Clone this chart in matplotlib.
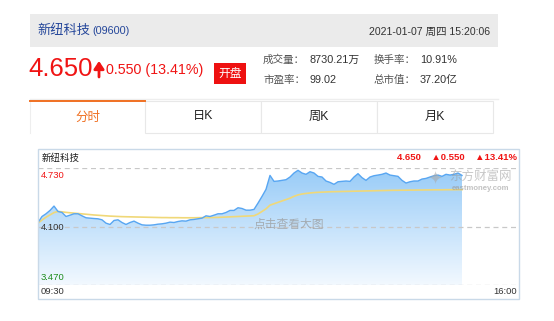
import numpy as np
import matplotlib
matplotlib.use("Agg")
import matplotlib.pyplot as plt
from matplotlib.patches import Rectangle, Polygon
from matplotlib.lines import Line2D

plt.rcParams['font.family'] = ['Liberation Sans', 'Noto Sans CJK SC', 'DejaVu Sans']

# ---- quote data ----
stock_name = "新纽科技"
stock_code = "(09600)"
timestamp = "2021-01-07 周四 15:20:06"
last_price = 4.650
change = 0.550
change_pct = 13.41
stat_labels = ["成交量：", "换手率：", "市盈率：", "总市值："]
stat_values = ["8730.21万", "10.91%", "99.02", "37.20亿"]
tab_labels = ["分时", "日K", "周K", "月K"]
y_ticks = [4.730, 4.100, 3.470]
time_labels = ["09:30", "16:00"]
session_slots = 120.25

# intraday price, one sample per slot
price = [
    4.143, 4.208, 4.237, 4.273, 4.320, 4.262, 4.251, 4.208, 4.222, 4.237,
    4.237, 4.215, 4.194, 4.190, 4.186, 4.183, 4.172, 4.136, 4.122, 4.165,
    4.172, 4.143, 4.122, 4.143, 4.158, 4.136, 4.118, 4.114, 4.114, 4.118,
    4.125, 4.129, 4.136, 4.147, 4.143, 4.154, 4.161, 4.158, 4.172, 4.176,
    4.183, 4.190, 4.215, 4.208, 4.222, 4.237, 4.237, 4.251, 4.273, 4.273,
    4.302, 4.294, 4.276, 4.276, 4.284, 4.352, 4.424, 4.500, 4.650, 4.586,
    4.590, 4.597, 4.604, 4.633, 4.676, 4.705, 4.676, 4.662, 4.690, 4.676,
    4.640, 4.633, 4.590, 4.575, 4.554, 4.582, 4.586, 4.590, 4.586, 4.633,
    4.669, 4.626, 4.597, 4.633, 4.647, 4.654, 4.662, 4.676, 4.654, 4.647,
    4.640, 4.597, 4.568, 4.582, 4.590, 4.590, 4.611, 4.618, 4.633, 4.647,
    4.654, 4.640, 4.662, 4.654, 4.662, 4.676, 4.650,
]

# running average price
avg_price = [
    4.137, 4.170, 4.200, 4.225, 4.250, 4.262, 4.258, 4.252, 4.248, 4.244,
    4.240, 4.236, 4.232, 4.228, 4.224, 4.221, 4.218, 4.215, 4.212, 4.210,
    4.208, 4.206, 4.205, 4.204, 4.203, 4.202, 4.201, 4.200, 4.199, 4.198,
    4.197, 4.196, 4.196, 4.195, 4.195, 4.195, 4.194, 4.194, 4.194, 4.194,
    4.195, 4.195, 4.196, 4.196, 4.197, 4.198, 4.200, 4.202, 4.204, 4.206,
    4.208, 4.210, 4.212, 4.214, 4.216, 4.235, 4.262, 4.290, 4.330, 4.345,
    4.360, 4.375, 4.390, 4.405, 4.425, 4.440, 4.450, 4.456, 4.461, 4.465,
    4.468, 4.470, 4.472, 4.474, 4.475, 4.476, 4.477, 4.478, 4.479, 4.480,
    4.481, 4.482, 4.483, 4.484, 4.485, 4.486, 4.487, 4.488, 4.489, 4.490,
    4.490, 4.491, 4.491, 4.492, 4.492, 4.493, 4.493, 4.494, 4.494, 4.495,
    4.495, 4.495, 4.496, 4.496, 4.496, 4.497, 4.497,
]

W, H = 554, 321
fig = plt.figure(figsize=(W / 100, H / 100), dpi=100)
fig.patch.set_facecolor("white")

CL, CR, CT, CB = 38, 519, 149, 299
Y_TOP, Y_BOT = 168, 285

# data axes aligned with the price gridlines (drawn underneath the page layer)
ax = fig.add_axes([CL / W, (H - Y_BOT) / H, (CR - CL) / W, (Y_BOT - Y_TOP) / H])
ax.set_zorder(1)

# page layer in pixel coordinates
page = fig.add_axes([0, 0, 1, 1])
page.set_zorder(2)
page.patch.set_alpha(0)
page.set_xlim(0, W)
page.set_ylim(H, 0)
page.axis("off")

RED = "#f01414"
BLUE_TXT = "#24469a"
GRAY_TXT = "#333333"

# header band
page.add_patch(Rectangle((30, 14), 468, 33, facecolor="#ebebeb", edgecolor="none"))
page.text(37, 31, stock_name, fontsize=9.5, color=BLUE_TXT, va="center", ha="left")
page.text(92, 31.5, stock_code, fontsize=7.8, color=BLUE_TXT, va="center", ha="left")
page.text(490, 31.5, timestamp, fontsize=7.6, color=GRAY_TXT, va="center", ha="right")

# price block
page.text(28, 69, f"{last_price:.3f}", fontsize=18.5, color=RED, va="center", ha="left")
page.annotate("", xy=(99, 61), xytext=(99, 77),
              arrowprops=dict(arrowstyle="-|>,head_width=0.3,head_length=0.45",
                              color=RED, lw=2.0, shrinkA=0, shrinkB=0))
page.text(106, 70, f"{change:.3f} ({change_pct:.2f}%)", fontsize=10.3,
          color=RED, va="center", ha="left")
page.add_patch(Rectangle((214, 63), 32, 21, facecolor="#ee1111", edgecolor="none"))
page.text(230, 73.5, "开盘", fontsize=8.5, color="white", va="center", ha="center")

stat_pos = [(263, 60), (374, 60), (263, 80), (374, 80)]
for (sx, sy), lab, val in zip(stat_pos, stat_labels, stat_values):
    page.text(sx, sy, lab, fontsize=7.6, color="#555555", va="center", ha="left")
    page.text(sx + 46, sy, val, fontsize=7.8, color=GRAY_TXT, va="center", ha="left")

page.add_line(Line2D([30, 498], [99, 99], color="#eeeeee", lw=1))

# tabs
tab_edges = [30, 145, 261, 377, 493]
for i, lab in enumerate(tab_labels):
    x0, x1 = tab_edges[i], tab_edges[i + 1]
    if i == 0:
        page.add_line(Line2D([x0, x0], [101, 133], color="#eeeeee", lw=0.8))
        page.add_line(Line2D([x0, x1], [100.5, 100.5], color="#f07022", lw=1.4))
        page.text((x0 + x1) / 2, 117.5, lab, fontsize=9, color="#f07022",
                  va="center", ha="center")
    else:
        page.add_patch(Rectangle((x0, 100.5), x1 - x0, 32.5, facecolor="white",
                                 edgecolor="#e8e8e8", lw=0.8))
        page.text((x0 + x1) / 2, 116.5, lab, fontsize=8.8, color="#222222",
                  va="center", ha="center")

# chart frame
page.add_patch(Rectangle((CL, CT), CR - CL, CB - CT, facecolor="none",
                         edgecolor="#c9d9e8", lw=1.0, zorder=5))

ax.set_xlim(0, session_slots)
ax.set_ylim(y_ticks[-1], y_ticks[0])
ax.axis("off")
ax.patch.set_alpha(0)

x = np.arange(len(price))
p = np.array(price)

# gradient area under the price line
verts = np.column_stack([np.r_[x[0], x, x[-1]], np.r_[y_ticks[-1], p, y_ticks[-1]]])
clip = Polygon(verts, closed=True, facecolor="none", edgecolor="none",
               transform=ax.transData)
ax.add_patch(clip)
grad = np.linspace(0, 1, 256).reshape(-1, 1)
top_c = np.array([0.60, 0.80, 0.97])
bot_c = np.array([0.95, 0.975, 1.0])
img = top_c * (1 - grad[..., None]) + bot_c * grad[..., None]
img = img.reshape(256, 1, 3)
im = ax.imshow(img, extent=[0, session_slots, y_ticks[-1], max(price)],
               aspect="auto", origin="upper", zorder=1)
im.set_clip_path(clip)
ax.set_xlim(0, session_slots)
ax.set_ylim(y_ticks[-1], y_ticks[0])

for yv in y_ticks:
    ax.axhline(yv, color="#c8c8c8", lw=0.9, ls=(0, (4, 3)), zorder=5)

ax.plot(x, p, color="#58a6f2", lw=1.0, zorder=4)
ax.plot(x, avg_price, color="#f0d878", lw=1.2, zorder=3)

# axis labels
page.text(41, 175, f"{y_ticks[0]:.3f}", fontsize=6.8, color=RED, va="center", ha="left", zorder=6)
page.text(41, 227.5, f"{y_ticks[1]:.3f}", fontsize=6.8, color=GRAY_TXT, va="center", ha="left", zorder=6)
page.text(41, 277, f"{y_ticks[2]:.3f}", fontsize=6.8, color="#1e8c1e", va="center", ha="left", zorder=6)
page.text(41, 292, time_labels[0], fontsize=6.8, color=GRAY_TXT, va="center", ha="left", zorder=6)
page.text(517, 292, time_labels[1], fontsize=6.8, color=GRAY_TXT, va="center", ha="right", zorder=6)

# chart title and quote summary
page.text(42, 158, stock_name, fontsize=6.8, color="#222222", va="center", ha="left", zorder=6)
page.text(517, 158, f"{last_price:.3f}    \u25b2{change:.3f}    \u25b2{change_pct:.2f}%",
          fontsize=6.8, color=RED, fontweight="bold", va="center", ha="right", zorder=6)

# watermarks
page.text(289, 225, "点击查看大图", fontsize=8.5, color="#9a9a9a", alpha=0.75,
          va="center", ha="center", zorder=6)
page.text(435, 180, "\u2726", fontsize=13, color="#aaaaaa", alpha=0.6,
          va="center", ha="center", zorder=6)
page.text(480, 177, "东方财富网", fontsize=9, color="#9a9a9a", alpha=0.55,
          va="center", ha="center", zorder=6)
page.text(480, 188.5, "eastmoney.com", fontsize=5.6, color="#9a9a9a", alpha=0.6,
          fontweight="bold", va="center", ha="center", zorder=6)

fig.savefig("out.png", dpi=100, facecolor="white")
